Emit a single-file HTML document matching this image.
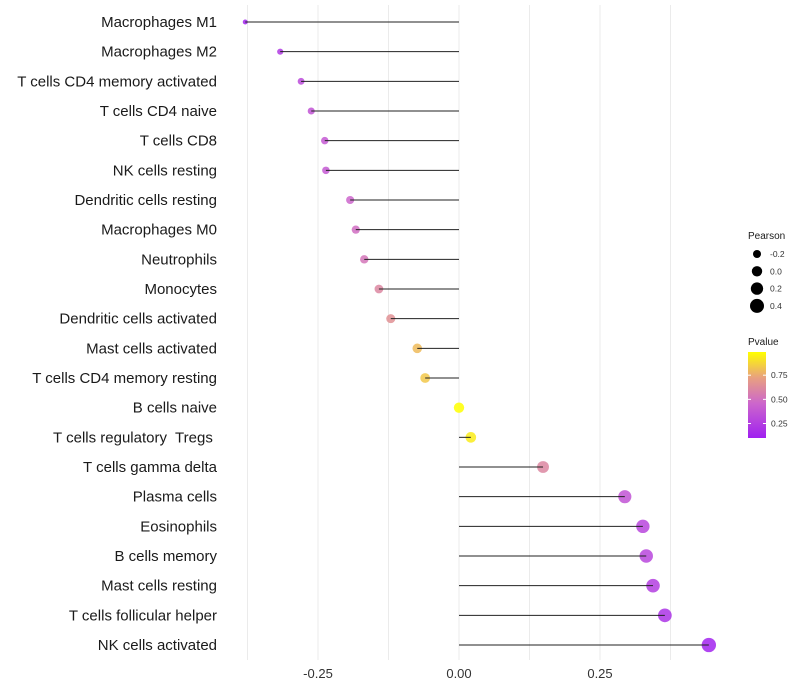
<!DOCTYPE html>
<html><head><meta charset="utf-8"><style>
body{margin:0;background:#fff;font-family:"Liberation Sans",sans-serif}
svg{display:block}
</style></head><body>
<svg id="chart" width="800" height="700"></svg>
<script>
const categories=["Macrophages M1","Macrophages M2","T cells CD4 memory activated","T cells CD4 naive","T cells CD8","NK cells resting","Dendritic cells resting","Macrophages M0","Neutrophils","Monocytes","Dendritic cells activated","Mast cells activated","T cells CD4 memory resting","B cells naive","T cells regulatory  Tregs ","T cells gamma delta","Plasma cells","Eosinophils","B cells memory","Mast cells resting","T cells follicular helper","NK cells activated"];
const pearson=[-0.379,-0.317,-0.280,-0.262,-0.238,-0.236,-0.193,-0.183,-0.168,-0.142,-0.121,-0.074,-0.060,0.0,0.021,0.149,0.294,0.326,0.332,0.344,0.365,0.443];
const pvalue=[0.03,0.15,0.25,0.3,0.33,0.33,0.4,0.44,0.48,0.57,0.62,0.78,0.82,0.99,0.93,0.57,0.3,0.22,0.22,0.18,0.12,0.03];
const xTicks=[-0.25,0,0.25];
const xTickLabels=["-0.25","0.00","0.25"];
const sizeLegend=[-0.2,0.0,0.2,0.4];
const pLegendTicks=[0.25,0.5,0.75];

const NS="http://www.w3.org/2000/svg";
const svg=document.getElementById('chart');
function el(t,a,p){const e=document.createElementNS(NS,t);for(const k in a)e.setAttribute(k,a[k]);(p||svg).appendChild(e);return e;}
const x=v=>459+v*564;
const y=i=>22+i*(623/21);
const r=v=>Math.sqrt(Math.max(27+55*v,2));
const stops=[[0,[160,32,240]],[0.4,[204,102,204]],[0.7,[232,160,128]],[1,[255,255,0]]];
function col(p){const t=Math.min(1,Math.max(0,(p-0.01)/0.98));for(let i=1;i<stops.length;i++){if(t<=stops[i][0]){const a=stops[i-1],b=stops[i],f=(t-a[0])/(b[0]-a[0]);const c=a[1].map((v,j)=>Math.round(v+(b[1][j]-v)*f));return `rgb(${c})`;}}return 'rgb(255,255,0)';}

for(let g=-0.375;g<=0.375;g+=0.125){const l=el('line',{x1:x(g),x2:x(g),y1:5,y2:660,stroke:'#ebebeb','stroke-width':1});
}
xTicks.forEach((t,i)=>{const tx=el('text',{x:x(t),y:678,'text-anchor':'middle','font-size':13,fill:'#333'});tx.textContent=xTickLabels[i];
});
categories.forEach((c,i)=>{
const lb=el('text',{x:217,y:y(i)+5,'text-anchor':'end','font-size':15,fill:'#1a1a1a','xml:space':'preserve',style:'white-space:pre'});lb.textContent=c;

const pt=el('circle',{cx:x(pearson[i]),cy:y(i),r:r(pearson[i]),fill:col(pvalue[i]),'fill-opacity':0.85});

const ln=el('line',{x1:x(0),x2:x(pearson[i]),y1:y(i),y2:y(i),stroke:'#222','stroke-width':1});

});
// legends
const lt=el('text',{x:748,y:239,'font-size':10,fill:'#1a1a1a'});lt.textContent='Pearson';

sizeLegend.forEach((v,i)=>{const cy=254+i*17.3;
const c=el('circle',{cx:757,cy:cy,r:r(v),fill:'#000'});
const t=el('text',{x:770,y:cy+3,'font-size':8.5,fill:'#333'});t.textContent=v.toFixed(1);
});
const pt2=el('text',{x:748,y:345,'font-size':10,fill:'#1a1a1a'});pt2.textContent='Pvalue';

const defs=el('defs',{});const lg=el('linearGradient',{id:'pg',x1:0,y1:1,x2:0,y2:0},defs);
stops.forEach(s=>el('stop',{offset:s[0],'stop-color':`rgb(${s[1]})`},lg));
const bar=el('rect',{x:748,y:352,width:18,height:86,fill:'url(#pg)'});

const py=p=>438-(p-0.1)/0.89*86;
pLegendTicks.forEach(p=>{
el('line',{x1:748,x2:751,y1:py(p),y2:py(p),stroke:'#fff'});el('line',{x1:763,x2:766,y1:py(p),y2:py(p),stroke:'#fff'});
const t=el('text',{x:771,y:py(p)+3,'font-size':8.5,fill:'#333'});t.textContent=p.toFixed(2);
});
</script>
</body></html>
